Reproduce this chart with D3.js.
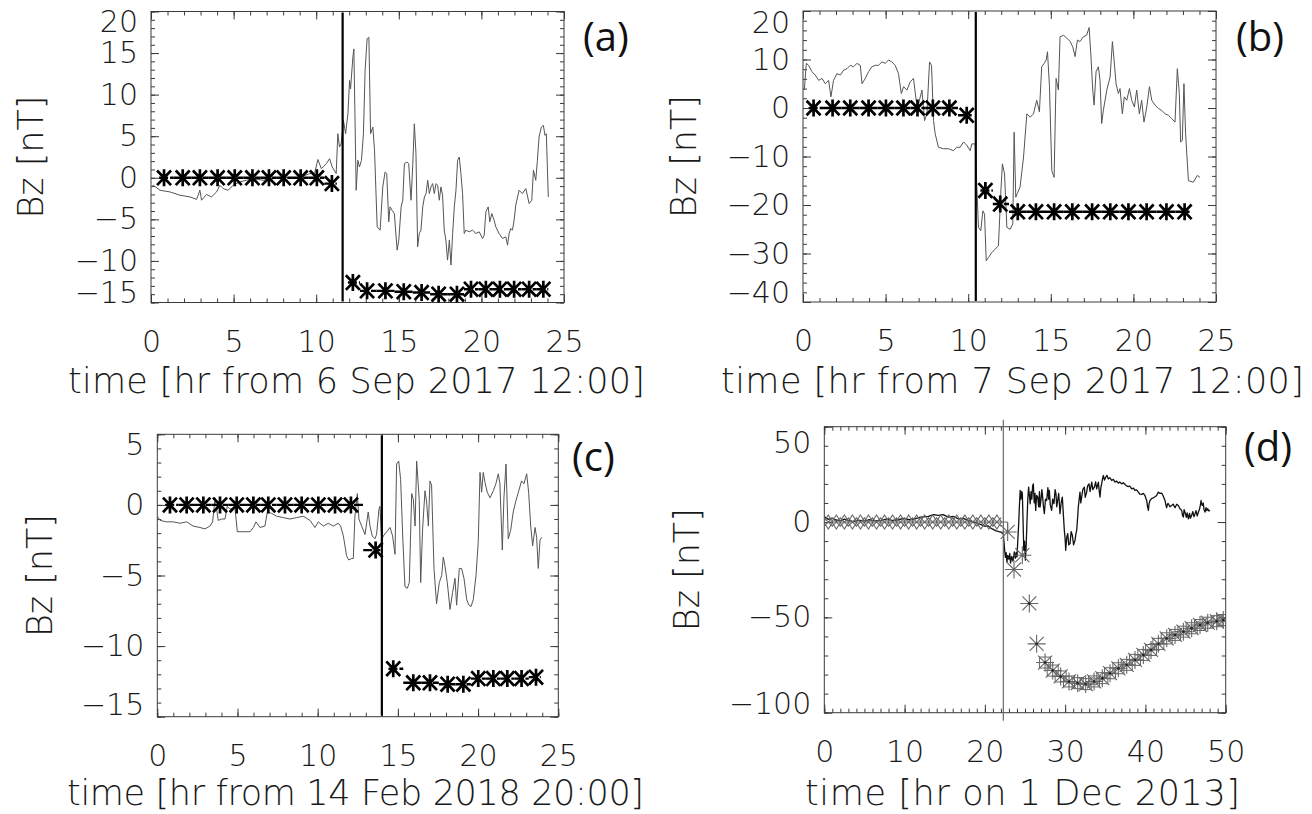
<!DOCTYPE html>
<html>
<head>
<meta charset="utf-8">
<script src="https://cdn.jsdelivr.net/npm/d3@7/dist/d3.min.js"></script>
<style>
  body { margin: 0; background: #fff; }
  svg text { font-family: 'DejaVu Sans', Lato, sans-serif; font-weight: 200; fill: #1a1a1a; }
  svg text.tag { font-family: 'Open Sans', 'DejaVu Sans', sans-serif; font-weight: 400; fill: #111; }
</style>
</head>
<body>
<svg id="fig" width="1312" height="814"></svg>
<script>
// ---- panel (a): 6 Sep 2017 ----
const aTime = [0, 0.14, 0.54, 1.15, 1.75, 2.36, 2.76, 2.96, 3.06, 3.36, 3.66, 3.97, 4.17, 4.37, 4.67, 4.97, 5.37, 5.78, 6.18, 6.78,
  7.39, 7.99, 8.6, 9.2, 9.6, 9.9, 10.1, 10.31, 10.61, 10.81, 10.97, 11.21, 11.31, 11.41, 11.51, 11.65, 11.78, 11.92, 12.02, 12.08,
  12.22, 12.28, 12.42, 12.52, 12.62, 12.74, 12.86, 12.96, 13.08, 13.19, 13.29, 13.43, 13.53, 13.69, 13.87, 14.03, 14.17, 14.27, 14.39, 14.47,
  14.59, 14.73, 14.9, 15.0, 15.14, 15.24, 15.34, 15.5, 15.6, 15.74, 15.84, 15.94, 16.04, 16.14, 16.24, 16.34, 16.45, 16.55, 16.65, 16.75,
  16.85, 16.95, 17.05, 17.15, 17.25, 17.35, 17.45, 17.55, 17.65, 17.75, 17.85, 17.95, 18.06, 18.16, 18.26, 18.36, 18.46, 18.56, 18.66, 18.76,
  18.86, 18.96, 19.06, 19.26, 19.46, 19.67, 19.87, 20.07, 20.17, 20.27, 20.41, 20.51, 20.63, 20.77, 20.87, 21.07, 21.28, 21.48, 21.58, 21.68,
  21.78, 21.88, 21.98, 22.08, 22.28, 22.48, 22.69, 22.89, 23.05, 23.15, 23.29, 23.39, 23.49, 23.63, 23.75, 23.85, 23.93, 24.05];
const aBz = [-1.1, -0.9, -1.5, -1.7, -2.1, -2.3, -2.6, -1.5, -2.7, -2.0, -2.3, -1.7, -0.9, -1.3, -1.5, -0.9, -0.5, -0.3, -0.1, -0.3,
  -0.1, 0.1, -0.1, 0.2, 0.5, 0.5, 2.2, 1.1, 1.7, 2.3, 1.3, 0.5, 5.3, 3.7, 4.1, 6.9, 5.3, 7.7, 11.7, 10.7,
  14.5, 15.5, -1.5, 2.1, 1.3, 2.1, 5.3, 12.9, 16.7, 16.9, 5.3, 6.1, 3.3, -5.9, -6.3, -1.1, 0.7, 0.5, -5.3, -3.5,
  -3.9, -4.3, -8.7, -7.5, -3.5, -2.7, 1.7, 1.9, 1.7, -2.7, 1.3, 6.5, 2.9, -8.3, -6.7, -6.3, -3.5, -2.3, -1.9, -0.3,
  -1.9, -1.1, -0.7, -1.9, -0.7, -0.9, -2.7, -1.1, -2.1, -6.3, -7.5, -9.9, -7.5, -10.5, -6.7, -3.5, -1.5, 2.1, 2.5, 0.5,
  -1.9, -6.7, -6.3, -6.5, -6.3, -6.7, -6.5, -7.3, -6.9, -4.1, -3.5, -5.3, -4.3, -5.1, -5.9, -6.7, -7.3, -7.1, -8.1, -6.7,
  -6.1, -6.3, -5.1, -3.3, -1.5, -1.9, -1.3, -3.1, -2.7, 0.9, -0.3, 2.1, 4.9, 6.1, 6.3, 5.1, 5.3, -2.3];
const aStarTime = [0.79, 1.92, 2.96, 4.03, 5.07, 6.14, 7.14, 8.03, 9.06, 10.04, 10.95,
  12.22, 13.08, 14.19, 15.3, 16.38, 17.41, 18.52, 19.37, 20.27, 21.12, 21.98, 22.89, 23.75];
const aStarBz = [0, 0, 0, 0, 0, 0, 0, 0, 0, 0, -0.7,
  -12.6, -13.6, -13.6, -13.7, -13.8, -14.0, -14.0, -13.4, -13.4, -13.4, -13.4, -13.4, -13.4];
const aXTicks = [0, 5, 10, 15, 20, 25];
const aYTicks = [-15, -10, -5, 0, 5, 10, 15, 20];

// ---- panel (b): 7 Sep 2017 ----
const bTime = [0.08, 0.2, 0.34, 0.54, 0.74, 0.95, 1.15, 1.35, 1.55, 1.69, 1.85, 2.05, 2.26, 2.46, 2.66, 2.86, 3.06, 3.26, 3.47, 3.57,
  3.77, 3.97, 4.17, 4.37, 4.57, 4.78, 4.98, 5.18, 5.38, 5.58, 5.78, 5.95, 6.09, 6.29, 6.49, 6.69, 6.85, 7.0, 7.2, 7.36,
  7.5, 7.66, 7.78, 7.9, 8.0, 8.2, 8.51, 8.81, 9.11, 9.31, 9.51, 9.72, 9.92, 10.12, 10.22, 10.42, 10.62, 10.76, 10.89, 10.99,
  11.09, 11.23, 11.43, 11.63, 11.83, 11.97, 12.07, 12.2, 12.34, 12.54, 12.7, 12.78, 12.88, 13.0, 13.14, 13.35, 13.55, 13.75, 13.95, 14.15,
  14.31, 14.45, 14.6, 14.72, 14.8, 14.92, 15.06, 15.2, 15.32, 15.46, 15.56, 15.77, 15.97, 16.17, 16.33, 16.47, 16.61, 16.77, 16.97, 17.17,
  17.32, 17.42, 17.54, 17.62, 17.74, 17.88, 17.98, 18.08, 18.18, 18.39, 18.59, 18.73, 18.83, 18.95, 19.09, 19.19, 19.33, 19.45, 19.6, 19.76,
  19.9, 20.06, 20.2, 20.36, 20.5, 20.64, 20.81, 20.97, 21.11, 21.31, 21.51, 21.71, 21.92, 22.12, 22.32, 22.52, 22.66, 22.78, 22.86, 22.96,
  23.06, 23.16, 23.33, 23.63, 23.87, 24.03];
const bBz = [3.7, 9.2, 8.8, 7.5, 6.8, 5.7, 6.1, 5.0, 5.7, 2.3, 5.7, 7.1, 6.8, 7.8, 8.1, 8.8, 8.5, 9.2, 8.8, 5.0,
  6.1, 7.5, 8.5, 8.8, 8.8, 9.5, 9.2, 9.9, 9.5, 8.8, 7.1, 3.0, 4.4, 3.7, 5.4, 6.1, 1.6, 0.9, 3.7, -2.6,
  -1.2, 9.5, 8.8, -2.6, -5.3, -8.1, -8.4, -8.4, -8.8, -8.1, -8.1, -7.0, -7.7, -8.8, -7.4, -7.4, -24.6, -25.3, -21.2, -21.9,
  -31.5, -30.8, -29.8, -29.1, -28.4, -17.7, -11.5, -13.6, -24.6, -25.0, -23.9, -5.0, -18.4, -17.4, -16.3, -10.1, -1.2, -1.9, -1.2, 1.6,
  -0.8, 8.5, 9.2, 9.9, 11.6, 4.4, -12.9, -14.3, 6.1, 3.7, 14.7, 15.0, 14.4, 13.7, 12.6, 10.6, 14.0, 13.7, 14.7, 15.0,
  16.6, 11.3, 3.7, 0.6, 7.5, 8.5, 5.7, -3.2, -0.5, 3.7, 6.4, 13.7, 9.9, 5.0, 3.0, 4.0, -1.2, 2.3, 1.6, 4.0,
  1.6, 0.2, 3.7, -1.2, 1.6, -2.9, 0.2, 4.4, 1.6, 0.6, -0.1, -0.5, -1.2, -1.5, -2.2, -2.9, 8.1, 3.0, -7.0, -6.7,
  5.0, -5.3, -15.0, -15.3, -13.9, -14.3];
const bStarTime = [0.64, 1.79, 2.86, 3.97, 5.02, 6.08, 6.93, 7.86, 8.86, 9.91,
  11.04, 11.94, 13.0, 14.1, 15.2, 16.3, 17.5, 18.6, 19.7, 20.8, 22.0, 23.1];
const bStarBz = [0, 0, 0, 0, 0, 0, 0, 0, 0, -1.5,
  -17.0, -19.8, -21.4, -21.4, -21.4, -21.4, -21.4, -21.4, -21.4, -21.4, -21.4, -21.4];
const bXTicks = [0, 5, 10, 15, 20, 25];
const bYTicks = [-40, -30, -20, -10, 0, 10, 20];

// ---- panel (c): 14 Feb 2018 ----
const cTime = [0, 0.17, 0.58, 1.0, 1.41, 1.83, 2.24, 2.66, 2.97, 3.28, 3.45, 3.6, 3.8, 4.01, 4.22, 4.36, 4.53, 4.84, 4.99, 5.36,
  5.78, 5.99, 6.15, 6.4, 6.71, 6.86, 7.13, 7.44, 7.86, 8.27, 8.69, 9.1, 9.52, 9.83, 10.04, 10.35, 10.66, 10.97, 11.28, 11.43,
  11.6, 11.8, 11.93, 12.12, 12.22, 12.32, 12.47, 12.57, 12.74, 12.95, 13.15, 13.26, 13.4, 13.57, 13.67, 13.82, 13.88, 13.99, 14.09, 14.3,
  14.51, 14.67, 14.82, 14.92, 15.05, 15.17, 15.3, 15.44, 15.59, 15.71, 15.86, 15.96, 16.07, 16.17, 16.33, 16.42, 16.54, 16.69, 16.79, 16.9,
  17.0, 17.1, 17.25, 17.41, 17.58, 17.73, 17.83, 17.93, 18.08, 18.25, 18.41, 18.56, 18.66, 18.83, 18.97, 19.12, 19.29, 19.43, 19.56, 19.7,
  19.87, 20.01, 20.12, 20.22, 20.32, 20.43, 20.57, 20.74, 20.95, 21.11, 21.26, 21.36, 21.51, 21.61, 21.74, 21.88, 22.03, 22.19, 22.36, 22.51,
  22.71, 22.86, 23.03, 23.15, 23.28, 23.4, 23.55, 23.65, 23.75, 23.86, 23.96];
const cBz = [-0.8, -1.1, -1.2, -1.2, -1.3, -1.2, -1.5, -1.6, -1.7, -1.5, -1.2, 0.5, -1.1, -1.0, -1.0, -0.1, -0.3, -0.2, -1.9, -1.9,
  -1.9, -1.6, -1.2, -1.6, -1.5, -0.5, -0.6, -0.8, -0.9, -1.0, -0.9, -0.8, -1.1, -1.6, -1.2, -1.5, -1.3, -1.5, -1.3, -1.5,
  -2.2, -3.6, -3.9, -3.8, -3.8, -0.8, 0.8, -1.0, -1.5, -2.1, -0.5, -1.5, -2.2, -2.4, -2.1, -0.3, -0.1, -2.5, -2.2, -1.9,
  -1.6, -2.2, -3.5, 2.9, 3.1, 1.8, -2.2, -5.8, -5.9, -5.5, 0.8, 0.4, -1.5, 3.1, 0.4, -5.5, -1.7, 1.0, 0.2, -1.5,
  1.7, 1.4, -4.5, -7.0, -5.5, -5.0, -3.7, -4.3, -5.5, -7.4, -6.2, -5.2, -7.1, -4.5, -4.5, -5.2, -6.7, -7.1, -7.2, -6.7,
  -5.0, -2.6, 2.3, 0.9, 2.3, 1.6, 0.9, 0.5, 1.0, 1.5, 2.2, 1.5, -3.2, 0.5, 2.9, -2.4, -1.8, -0.5, 0.3, 0.9,
  1.7, 1.5, 2.2, 0.9, -1.5, -2.9, -1.6, -2.3, -4.5, -2.5, -2.3];
const cStarTime = [0.79, 1.83, 2.87, 3.91, 4.95, 5.99, 6.92, 7.96, 9.0, 10.04, 11.08, 12.07, 13.61,
  14.71, 15.96, 17.0, 18.1, 19.08, 20.01, 20.95, 21.82, 22.71, 23.61];
const cStarBz = [0, 0, 0, 0, 0, 0, 0, 0, 0, 0, 0, 0, -3.2,
  -11.6, -12.6, -12.6, -12.7, -12.7, -12.3, -12.3, -12.3, -12.3, -12.2];
const cXTicks = [0, 5, 10, 15, 20, 25];
const cYTicks = [-15, -10, -5, 0, 5];

// ---- panel (d): 1 Dec 2013 ----
const dTime = [0.08, 0.5, 1.0, 1.33, 2.0, 2.5, 3.0, 3.6, 4.2, 5.07,
  5.6, 6.2, 7.14, 7.8, 8.5, 9.22, 9.9, 10.6, 11.3, 12.0,
  12.96, 13.6, 14.2, 14.8, 15.45, 16.1, 16.69, 17.3, 17.94, 18.5,
  19.19, 19.6, 20.02, 20.4, 20.85, 21.4, 21.89, 22.3, 22.45, 22.55,
  22.65, 22.75, 22.85, 23.0, 23.1, 23.2, 23.34, 23.5, 23.67, 23.8,
  23.9, 24.0, 24.1, 24.2, 24.3, 24.4, 24.5, 24.6, 24.67, 24.75,
  24.85, 24.95, 25.05, 25.15, 25.25, 25.35, 25.45, 25.55, 25.65, 25.75,
  25.85, 25.95, 26.04, 26.15, 26.25, 26.33, 26.45, 26.58, 26.7, 26.8,
  26.87, 27.0, 27.1, 27.16, 27.3, 27.41, 27.55, 27.7, 27.85, 27.95,
  28.03, 28.15, 28.32, 28.45, 28.61, 28.75, 28.86, 28.95, 29.07, 29.2,
  29.36, 29.5, 29.65, 29.75, 29.9, 30.0, 30.07, 30.2, 30.32, 30.45,
  30.61, 30.75, 30.9, 31.05, 31.23, 31.35, 31.44, 31.55, 31.64, 31.75,
  31.85, 31.95, 32.06, 32.2, 32.39, 32.5, 32.68, 32.8, 32.97, 33.1,
  33.31, 33.45, 33.64, 33.8, 33.93, 34.05, 34.14, 34.25, 34.34, 34.45,
  34.55, 34.65, 34.76, 34.9, 35.05, 35.2, 35.38, 35.55, 35.8, 36.0,
  36.21, 36.4, 36.63, 36.8, 37.04, 37.25, 37.46, 37.65, 37.87, 38.05,
  38.29, 38.5, 38.7, 38.9, 39.12, 39.3, 39.53, 39.75, 39.95, 40.05,
  40.16, 40.25, 40.37, 40.45, 40.57, 40.8, 40.99, 41.2, 41.4, 41.5,
  41.61, 41.8, 42.03, 42.2, 42.44, 42.55, 42.65, 42.75, 42.86, 43.05,
  43.27, 43.45, 43.69, 43.9, 44.1, 44.3, 44.52, 44.62, 44.73, 44.82,
  44.93, 45.1, 45.2, 45.35, 45.5, 45.6, 45.76, 45.9, 46.05, 46.18,
  46.3, 46.45, 46.6, 46.75, 46.85, 46.93, 47.0, 47.09, 47.2, 47.3,
  47.43, 47.55, 47.65, 47.76, 47.9, 48.05];
const dBz = [2.6, 1.4, 2.0, 1.2, 0.6, 1.5, 0.9, 0.2, 1.0, 0.5,
  1.3, 0.6, 0.9, 1.6, 0.8, 1.2, 1.9, 1.2, 1.7, 2.6,
  3.0, 3.9, 3.5, 3.9, 2.6, 2.9, 1.7, 1.9, 0.9, 0.2,
  -0.9, -1.5, -2.3, -2.0, -3.5, -4.6, -5.2, -6.1, -14.0, -18.5,
  -16.0, -21.0, -17.5, -19.5, -16.5, -21.5, -18.0, -20.5, -15.7, -19.0,
  -16.0, -18.3, -10.0, -2.0, 8.0, 16.6, 12.0, 16.0, 14.8, 2.0,
  -14.8, -10.0, -20.0, -12.0, 0.9, 12.0, 18.3, 14.0, 9.6, 16.0,
  12.0, 19.0, 20.0, 10.0, 15.0, 6.1, 14.0, 13.1, 8.0, 16.0,
  7.8, 12.0, 17.0, 14.8, 8.0, 4.4, 12.0, 11.3, 18.0, 12.0,
  16.6, 9.0, 6.1, 12.0, 9.6, 17.0, 14.8, 8.0, 11.3, 15.0,
  4.4, 10.0, 13.1, 6.0, -4.4, -9.0, -14.8, -8.0, -6.1, -12.0,
  -11.3, -5.0, -7.0, -12.0, -9.6, -6.0, -4.4, 2.0, 7.8, 12.0,
  15.7, 10.0, 13.1, 17.0, 18.3, 13.0, 15.7, 19.0, 20.0, 16.0,
  20.9, 17.0, 18.3, 21.0, 17.4, 19.5, 20.9, 16.0, 13.1, 18.0,
  20.0, 22.5, 24.4, 22.0, 23.5, 24.5, 22.6, 23.3, 21.8, 22.4,
  20.9, 21.5, 20.4, 21.0, 20.0, 20.6, 19.7, 19.0, 18.6, 18.9,
  17.4, 17.8, 16.6, 16.9, 15.7, 14.6, 14.5, 15.0, 13.9, 12.5,
  11.3, 8.5, 6.1, 9.5, 11.3, 12.4, 12.7, 13.3, 13.9, 14.8,
  15.7, 15.0, 15.2, 13.8, 11.3, 9.0, 7.5, 9.5, 9.6, 8.0,
  8.7, 9.4, 7.5, 9.3, 8.7, 7.0, 6.1, 3.5, 2.6, 6.5,
  5.2, 2.5, 4.8, 1.7, 4.5, 2.0, 3.5, 5.5, 2.8, 4.4,
  6.0, 3.2, 5.2, 7.0, 9.0, 11.3, 9.5, 8.7, 10.0, 6.5,
  5.2, 7.5, 6.0, 7.0, 5.8, 6.1];
// quiet-time reference points (diamonds) before the shock
const dDiamondTime = [0.5, 1.5, 2.5, 3.5, 4.5, 5.5, 6.5, 7.5, 8.5, 9.5, 10.5, 11.5, 12.5, 13.5, 14.5, 15.5, 16.5, 17.5, 18.5, 19.5, 20.5, 21.5];
const dDiamondBz = [0, 0, 0, 0, 0, 0, 0, 0, 0, 0, 0, 0, 0, 0, 0, 0, 0, 0, 0, 0, 0, 0];
// predicted points (asterisks) after the shock
const dStarTime = [22.84, 23.63, 24.67, 25.54, 26.45, 27.5, 28.45, 29.44, 30.48, 31.56, 32.56, 33.6, 34.63, 35.59,
  36.63, 37.67, 38.7, 39.74, 40.7, 41.61, 42.65, 43.69, 44.73, 45.76, 46.8, 47.76, 48.88, 49.7];
const dStarBz = [-5.2, -24.9, -17.4, -42.7, -63.9, -73.7, -77.9, -81.0, -83.6, -84.5, -85.0, -83.6, -81.9, -79.3,
  -76.7, -74.9, -72.3, -69.7, -67.1, -63.9, -61.0, -59.2, -57.5, -55.7, -54.0, -52.8, -52.0, -51.4];
const dXTicks = [0, 10, 20, 30, 40, 50];
const dYTicks = [-100, -50, 0, 50];

// layout of the four panels (pixel boxes and text placement)
// nudge: how far the top / bottom y labels are pulled inside the box
var panels = [
  { key: 'a', box: { l: 151, t: 11.5, r: 564, b: 302.5 }, xDomain: [0, 25], yDomain: [-15, 20],
    xTicks: aXTicks, yTicks: aYTicks, xMinor: 1, yMinor: 1, event: 11.6, nudge: [10, -10],
    time: aTime, bz: aBz, starTime: aStarTime, starBz: aStarBz,
    title: 'time [hr from 6 Sep 2017 12:00]', titleX: 68, titleW: 577, titleY: 393,
    bzX: 43, tag: '(a)', tagX: 583, tagY: 51 },
  { key: 'b', box: { l: 803, t: 11, r: 1216, b: 302 }, xDomain: [0, 25], yDomain: [-40, 20],
    xTicks: bXTicks, yTicks: bYTicks, xMinor: 1, yMinor: 2, event: 10.46, nudge: [12, -9],
    time: bTime, bz: bBz, starTime: bStarTime, starBz: bStarBz,
    title: 'time [hr from 7 Sep 2017 12:00]', titleX: 721, titleW: 583, titleY: 393,
    bzX: 696, tag: '(b)', tagX: 1236, tagY: 51 },
  { key: 'c', box: { l: 157.3, t: 434.3, r: 558.3, b: 716.7 }, xDomain: [0, 25], yDomain: [-15, 5],
    xTicks: cXTicks, yTicks: cYTicks, xMinor: 1, yMinor: 1, event: 14.0, nudge: [11, -12],
    time: cTime, bz: cBz, starTime: cStarTime, starBz: cStarBz,
    title: 'time [hr from 14 Feb 2018 20:00]', titleX: 67, titleW: 577, titleY: 805,
    bzX: 52, tag: '(c)', tagX: 572, tagY: 471 },
  { key: 'd', box: { l: 824.3, t: 426.7, r: 1225.7, b: 712.7 }, xDomain: [0, 50], yDomain: [-100, 50],
    xTicks: dXTicks, yTicks: dYTicks, xMinor: 1, yMinor: 10, event: 22.3, nudge: [16, -9],
    time: dTime, bz: dBz,
    title: 'time [hr on 1 Dec 2013]', titleX: 805, titleW: 435, titleY: 805,
    bzX: 699, tag: '(d)', tagX: 1244, tagY: 461 }
];

var svg = d3.select('#fig');

// IDL-style asterisk (vertical bar + two diagonals)
var starPath = 'M0,-8.5V8.5M-7,-7.3L7,7.3M-7,7.3L7,-7.3';
// thin 8-armed asterisk used in panel (d)
var star8Path = 'M0,-9V9M-9,0H9M-7,-7L7,7M-7,7L7,-7';

function drawPanel(p) {
  var box = p.box;
  var g = svg.append('g').attr('class', 'panel-' + p.key);
  var x = d3.scaleLinear().domain(p.xDomain).range([box.l, box.r]);
  var y = d3.scaleLinear().domain(p.yDomain).range([box.b, box.t]);

  // clip everything data-ish to the plot box
  g.append('clipPath').attr('id', 'clip-' + p.key)
    .append('rect').attr('x', box.l).attr('y', box.t)
    .attr('width', box.r - box.l).attr('height', box.b - box.t);

  // minor tick positions, every xMinor / yMinor units
  var xMinor = d3.range(p.xDomain[0], p.xDomain[1] + 1e-9, p.xMinor);
  var yMinor = d3.range(p.yDomain[0], p.yDomain[1] + 1e-9, p.yMinor);

  var axes = g.append('g').attr('color', '#3a3a3a');
  function tickAxis(axis, transform, values, size, labels, pad) {
    var a = axis.tickValues(values).tickSize(-size).tickPadding(pad || 3);
    if (!labels) a.tickFormat('');
    var sel = axes.append('g').attr('transform', transform).call(a);
    sel.select('.domain').remove();
    sel.selectAll('line').attr('stroke-width', 1);
    return sel;
  }
  // minor ticks on all four sides
  tickAxis(d3.axisBottom(x), 'translate(0,' + box.b + ')', xMinor, 4);
  tickAxis(d3.axisTop(x), 'translate(0,' + box.t + ')', xMinor, 4);
  tickAxis(d3.axisLeft(y), 'translate(' + box.l + ',0)', yMinor, 4);
  tickAxis(d3.axisRight(y), 'translate(' + box.r + ',0)', yMinor, 4);
  // major ticks, labels only on bottom and left
  var bottom = tickAxis(d3.axisBottom(x), 'translate(0,' + box.b + ')', p.xTicks, 8, true, 28);
  tickAxis(d3.axisTop(x), 'translate(0,' + box.t + ')', p.xTicks, 8);
  var left = tickAxis(d3.axisLeft(y), 'translate(' + box.l + ',0)', p.yTicks, 8, true, 13);
  tickAxis(d3.axisRight(y), 'translate(' + box.r + ',0)', p.yTicks, 8);
  bottom.selectAll('text').attr('font-size', 30).attr('fill', '#1a1a1a');
  var yMax = d3.max(p.yTicks), yMin = d3.min(p.yTicks);
  left.selectAll('text').attr('font-size', 30).attr('fill', '#1a1a1a')
    .attr('transform', function (d) {
      // keep the end labels inside the box height, as in the original figure
      if (d === yMax) return 'translate(0,' + p.nudge[0] + ')';
      if (d === yMin) return 'translate(0,' + p.nudge[1] + ')';
      return null;
    });

  // frame
  g.append('rect').attr('x', box.l).attr('y', box.t)
    .attr('width', box.r - box.l).attr('height', box.b - box.t)
    .attr('fill', 'none').attr('stroke', '#3a3a3a').attr('stroke-width', 1);

  var plot = g.append('g').attr('clip-path', 'url(#clip-' + p.key + ')');

  // measured Bz
  var series = d3.zip(p.time, p.bz);
  var line = d3.line().x(function (d) { return x(d[0]); }).y(function (d) { return y(d[1]); });
  plot.append('path').datum(series).attr('d', line)
    .attr('fill', 'none')
    .attr('stroke', p.key === 'd' ? '#111' : '#555')
    .attr('stroke-width', p.key === 'd' ? 1.3 : 1)
    .attr('stroke-linejoin', 'round');

  // shock / arrival time marker
  if (p.key === 'd') {
    g.append('line').attr('x1', x(p.event)).attr('x2', x(p.event))
      .attr('y1', box.t - 7).attr('y2', box.b + 8)
      .attr('stroke', '#6a6a6a').attr('stroke-width', 1.2);
  } else {
    g.append('line').attr('x1', x(p.event)).attr('x2', x(p.event))
      .attr('y1', box.t + 1).attr('y2', box.b - 1)
      .attr('stroke', '#000').attr('stroke-width', 2.2);
  }

  if (p.key === 'd') {
    drawModelD(plot, x, y);
  } else {
    drawStars(plot, x, y, p);
  }

  // axis titles
  g.append('text').attr('x', p.titleX).attr('y', p.titleY)
    .attr('font-size', 35).attr('textLength', p.titleW).attr('lengthAdjust', 'spacing')
    .text(p.title);
  var cy = (box.t + box.b) / 2;
  g.append('text')
    .attr('transform', 'translate(' + p.bzX + ',' + (cy + 61.5) + ') rotate(-90)')
    .attr('font-size', 35).attr('textLength', 123).attr('lengthAdjust', 'spacing')
    .text('Bz [nT]');

  // panel tag
  g.append('text').attr('class', 'tag').attr('x', p.tagX).attr('y', p.tagY)
    .attr('font-size', 40).text(p.tag);
}

// thick asterisks joined by a histogram-style line, split at the event
function drawStars(plot, x, y, p) {
  var pts = d3.zip(p.starTime, p.starBz);
  var groups = [pts.filter(function (d) { return d[0] < p.event; }),
                pts.filter(function (d) { return d[0] >= p.event; })];
  groups.forEach(function (grp) {
    grp.forEach(function (d, i) {
      var prev = i > 0 ? grp[i - 1][0] : d[0] - 0.6;
      var next = i < grp.length - 1 ? grp[i + 1][0] : d[0] + 0.6;
      plot.append('line')
        .attr('x1', x((prev + d[0]) / 2)).attr('x2', x((next + d[0]) / 2))
        .attr('y1', y(d[1])).attr('y2', y(d[1]))
        .attr('stroke', '#000').attr('stroke-width', 2.4)
        .attr('stroke-dasharray', '9,2');
    });
  });
  plot.selectAll('path.star').data(pts).enter().append('path')
    .attr('class', 'star')
    .attr('transform', function (d) { return 'translate(' + x(d[0]) + ',' + y(d[1]) + ')'; })
    .attr('d', starPath)
    .attr('fill', 'none').attr('stroke', '#000').attr('stroke-width', 2.7);
}

// panel (d): grey diamond/cross markers before the shock, asterisks + squares after
function drawModelD(plot, x, y) {
  var diamonds = d3.zip(dDiamondTime, dDiamondBz);
  var stars = d3.zip(dStarTime, dStarBz);
  var grey = '#666';
  var link = d3.line().x(function (d) { return x(d[0]); }).y(function (d) { return y(d[1]); });

  plot.append('path').datum(diamonds.concat([stars[0]])).attr('d', link.curve(d3.curveStepAfter))
    .attr('fill', 'none').attr('stroke', grey).attr('stroke-width', 1);
  plot.append('path').datum(stars.slice(5)).attr('d', link.curve(d3.curveStep))
    .attr('fill', 'none').attr('stroke', grey).attr('stroke-width', 1);

  plot.selectAll('path.diamond').data(diamonds).enter().append('path')
    .attr('class', 'diamond')
    .attr('transform', function (d) { return 'translate(' + x(d[0]) + ',' + y(d[1]) + ')'; })
    .attr('d', 'M0,-7L4.6,0L0,7L-4.6,0ZM-4.4,-4.4L4.4,4.4M-4.4,4.4L4.4,-4.4')
    .attr('fill', 'none').attr('stroke', grey).attr('stroke-width', 1.1);

  plot.selectAll('rect.sq').data(stars.slice(5)).enter().append('rect')
    .attr('class', 'sq')
    .attr('x', function (d) { return x(d[0]) - 5.5; }).attr('y', function (d) { return y(d[1]) - 5.5; })
    .attr('width', 11).attr('height', 11)
    .attr('fill', 'none').attr('stroke', grey).attr('stroke-width', 1);

  plot.selectAll('path.star8').data(stars).enter().append('path')
    .attr('class', 'star8')
    .attr('transform', function (d) { return 'translate(' + x(d[0]) + ',' + y(d[1]) + ')'; })
    .attr('d', star8Path)
    .attr('fill', 'none').attr('stroke', grey).attr('stroke-width', 1.1);

  plot.selectAll('circle.dot').data(stars.slice(3)).enter().append('circle')
    .attr('class', 'dot')
    .attr('cx', function (d) { return x(d[0]); }).attr('cy', function (d) { return y(d[1]); })
    .attr('r', 1.2).attr('fill', '#222');
}

panels.forEach(drawPanel);
</script>
</body>
</html>
